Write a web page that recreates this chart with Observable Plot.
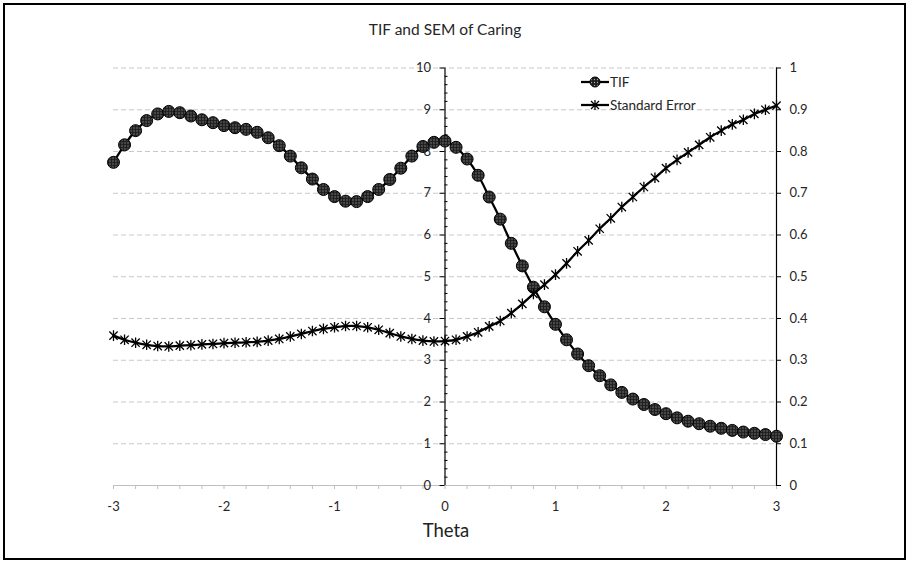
<!DOCTYPE html>
<html>
<head>
<meta charset="utf-8">
<script src="https://cdn.jsdelivr.net/npm/d3@7"></script>
<script src="https://cdn.jsdelivr.net/npm/@observablehq/plot@0.6"></script>
<style>
  html, body { margin: 0; padding: 0; background: #fff; }
  #wrap { position: relative; width: 909px; height: 563px; font-family: Lato, "Open Sans", sans-serif; color: #262626; }
  #wrap svg { display: block; }
  .abs { position: absolute; white-space: nowrap; }
  #border { position: absolute; left: 3px; top: 3px; width: 899px; height: 553px; border: 2px solid #000; pointer-events: none; }
  #title { left: 0; width: 890px; top: 20px; text-align: center; font-size: 15.5px; color: #262626; }
  #xlabel { left: 0; width: 892px; top: 519px; text-align: center; font-size: 18.5px; color: #222; }
  .leg { font-size: 13.5px; color: #262626; display: flex; align-items: center; }
  .leg svg { margin-right: 1px; }
</style>
</head>
<body>
<div id="wrap">
  <div id="chart"></div>
  <div id="title" class="abs">TIF and SEM of Caring</div>
  <div id="xlabel" class="abs">Theta</div>
  <div id="legend" class="abs" style="left:581px; top:70px;"></div>
  <div id="border"></div>
</div>
<script>
const theta = [-3.0,-2.9,-2.8,-2.7,-2.6,-2.5,-2.4,-2.3,-2.2,-2.1,
               -2.0,-1.9,-1.8,-1.7,-1.6,-1.5,-1.4,-1.3,-1.2,-1.1,
               -1.0,-0.9,-0.8,-0.7,-0.6,-0.5,-0.4,-0.3,-0.2,-0.1,
                0.0, 0.1, 0.2, 0.3, 0.4, 0.5, 0.6, 0.7, 0.8, 0.9,
                1.0, 1.1, 1.2, 1.3, 1.4, 1.5, 1.6, 1.7, 1.8, 1.9,
                2.0, 2.1, 2.2, 2.3, 2.4, 2.5, 2.6, 2.7, 2.8, 2.9, 3.0];
const tif = [7.74,8.16,8.50,8.74,8.90,8.96,8.93,8.85,8.76,8.69,
             8.62,8.57,8.53,8.46,8.33,8.14,7.89,7.61,7.34,7.09,
             6.92,6.81,6.80,6.92,7.09,7.33,7.60,7.89,8.12,8.22,
             8.25,8.10,7.82,7.43,6.91,6.38,5.80,5.26,4.75,4.28,
             3.86,3.49,3.15,2.87,2.63,2.41,2.23,2.07,1.94,1.82,
             1.72,1.62,1.54,1.48,1.42,1.37,1.32,1.28,1.25,1.22,1.18];
const sem = [0.359,0.349,0.342,0.337,0.334,0.333,0.335,0.336,0.338,0.339,
             0.341,0.342,0.343,0.344,0.347,0.351,0.357,0.363,0.370,0.375,
             0.379,0.382,0.382,0.379,0.373,0.365,0.357,0.351,0.347,0.345,
             0.346,0.349,0.357,0.367,0.381,0.394,0.413,0.435,0.459,0.481,
             0.505,0.532,0.561,0.587,0.615,0.640,0.667,0.691,0.715,0.737,
             0.760,0.780,0.798,0.816,0.834,0.850,0.865,0.876,0.890,0.900,0.910];
const xTickLabels = [-3, -2, -1, 0, 1, 2, 3];
const leftTickLabels = [0, 1, 2, 3, 4, 5, 6, 7, 8, 9, 10];
const rightTickLabels = [0, 0.1, 0.2, 0.3, 0.4, 0.5, 0.6, 0.7, 0.8, 0.9, 1];
const seriesNames = ["TIF", "Standard Error"];

const data = theta.map((t, i) => ({theta: t, tif: tif[i], sem: sem[i]}));
const rightScale = 10; // SEM axis 0..1 maps onto TIF axis 0..10

// Excel-like star: X plus vertical bar
const star = {
  draw(ctx, size) {
    const r = Math.sqrt(size) * 0.6;
    const d = r * 0.78;
    ctx.moveTo(0, -r); ctx.lineTo(0, r);
    ctx.moveTo(-d, -d); ctx.lineTo(d, d);
    ctx.moveTo(-d, d); ctx.lineTo(d, -d);
  }
};

const xMinor = d3.ticks(-3, 3, 30);
const yMinor = d3.ticks(0, 10, 50).filter(v => Math.abs(v - Math.round(v)) > 1e-6);
const tickFont = 13;
const tickColor = "#262626";

const chart = Plot.plot({
  width: 909,
  height: 563,
  marginLeft: 113,
  marginRight: 133,
  marginTop: 67.5,
  marginBottom: 78,
  style: {fontFamily: "Lato, 'Open Sans', sans-serif", fontSize: "13px", color: tickColor, background: "transparent"},
  x: {domain: [-3, 3], axis: null},
  y: {domain: [0, 10], axis: null},
  marks: [
    // gridlines
    Plot.ruleY(leftTickLabels.filter(d => d > 0), {stroke: "#c8c8c8", strokeDasharray: "5,3", strokeWidth: 1}),
    // x axis line + ticks
    Plot.ruleY([0], {stroke: "#bfbfbf", strokeWidth: 1}),
    Plot.ruleX(xMinor, {y1: 0, y2: 0, insetBottom: -4, stroke: "#bfbfbf"}),
    Plot.text(xTickLabels, {x: d => d, y: 0, dy: 21, text: d => String(d), fill: tickColor, fontSize: tickFont}),
    // left axis at theta = 0
    Plot.ruleX([0], {y1: 0, y2: 10, stroke: "#000", strokeWidth: 1.2}),
    Plot.ruleY(leftTickLabels, {x1: 0, x2: 0, insetLeft: -5, stroke: "#000"}),
    Plot.ruleY(yMinor, {x1: 0, x2: 0, insetRight: -3, stroke: "#000"}),
    Plot.text(leftTickLabels, {x: 0, y: d => d, dx: -14, textAnchor: "end", text: d => String(d), fill: tickColor, fontSize: tickFont}),
    // right axis at theta = 3
    Plot.ruleX([3], {y1: 0, y2: 10, stroke: "#000", strokeWidth: 1.2}),
    Plot.ruleY(rightTickLabels, {y: d => d * rightScale, x1: 3, x2: 3, insetRight: -5, stroke: "#000"}),
    Plot.text(rightTickLabels, {x: 3, y: d => d * rightScale, dx: 13, textAnchor: "start", text: d => String(d), fill: tickColor, fontSize: tickFont}),
    // TIF series
    Plot.line(data, {x: "theta", y: "tif", curve: "catmull-rom", stroke: "#000", strokeWidth: 2.25}),
    Plot.dot(data, {x: "theta", y: "tif", r: 6, fill: "url(#dotpat)", stroke: "#000", strokeWidth: 1}),
    // Standard error series
    Plot.line(data, {x: "theta", y: d => d.sem * rightScale, curve: "catmull-rom", stroke: "#000", strokeWidth: 2.25}),
    Plot.dot(data, {x: "theta", y: d => d.sem * rightScale, symbol: star, r: 5, fill: "none", stroke: "#000", strokeWidth: 1.3})
  ]
});

d3.select(chart).insert("defs", ":first-child").html(
  `<pattern id="dotpat" patternUnits="userSpaceOnUse" width="3" height="3">
     <rect width="3" height="3" fill="#1c1c1c"></rect>
     <circle cx="1.5" cy="1.5" r="0.65" fill="#a8a8a8"></circle>
   </pattern>`);
document.getElementById("chart").appendChild(chart);

// legend
const legend = document.getElementById("legend");
const legendMarkers = [
  `<svg width="28" height="14"><line x1="0" y1="7" x2="28" y2="7" stroke="#000" stroke-width="2.25"/><circle cx="14" cy="7" r="5" fill="url(#dotpat)" stroke="#000"/></svg>`,
  `<svg width="28" height="14"><line x1="0" y1="7" x2="28" y2="7" stroke="#000" stroke-width="2.25"/><path d="M14,2V12M10,3L18,11M10,11L18,3" stroke="#000" stroke-width="1.3" fill="none"/></svg>`
];
seriesNames.forEach((name, i) => {
  const row = document.createElement("div");
  row.className = "leg";
  row.style.height = "23px";
  row.innerHTML = legendMarkers[i] + `<span>${name}</span>`;
  legend.appendChild(row);
});
</script>
</body>
</html>
